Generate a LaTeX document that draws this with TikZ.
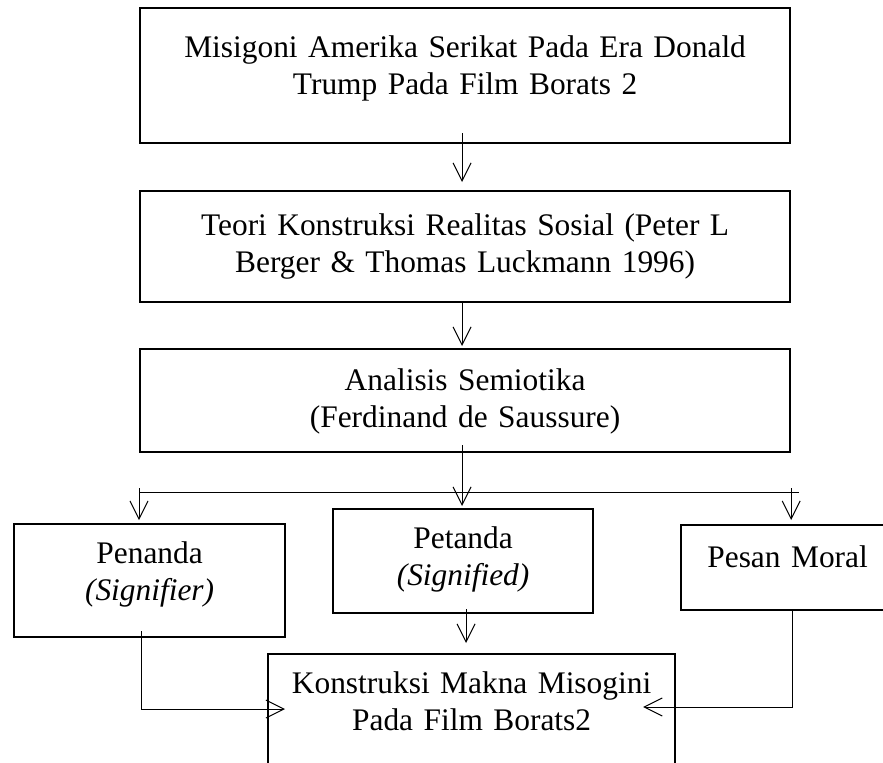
\documentclass[tikz,border=0pt]{standalone}
\usepackage{fontspec}
\setmainfont{Liberation Serif}
\usepackage{tikz}
\usetikzlibrary{arrows.meta, calc}

\begin{document}
\begin{tikzpicture}[x=0.5pt, y=-0.5pt, line cap=butt,
		box/.style={draw, line width=1.1pt, inner sep=0pt, align=center, anchor=north west,
			font=\fontsize{15.7}{18.5}\selectfont},
		garis/.style={line width=0.5pt},
		arr/.style={garis, -{Straight Barb[length=9pt, width=9pt]}}]
				\fill[white] (0,0) rectangle (883,762);
				\useasboundingbox (0,0) rectangle (883,762);
				% kotak utama
				\node[box, text width=325pt, text height=24.5pt, text depth=43pt] (topik) at (139,7)
					{Misigoni Amerika Serikat Pada Era Donald\\Trump Pada Film Borats 2};
				\node[box, text width=325pt, text height=22pt, text depth=33.5pt] (teori) at (139,190)
					{Teori Konstruksi Realitas Sosial (Peter L\\Berger \& Thomas Luckmann 1996)};
				\node[box, text width=325pt, text height=20.5pt, text depth=31pt] (analisis) at (139,348)
					{Analisis Semiotika\\(Ferdinand de Saussure)};
				% tiga cabang
				\node[box, text width=135.5pt, text height=19.5pt, text depth=37pt] (penanda) at (13,523)
					{Penanda\\\textit{(Signifier)}};
				\node[box, text width=130pt, text height=19.5pt, text depth=32.5pt] (petanda) at (332,508)
					{Petanda\\\textit{(Signified)}};
				\node[box, text width=106.5pt, text height=21pt, text depth=21.5pt] (pesan) at (680,524)
					{Pesan Moral};
				\node[box, text width=203.5pt, text height=19.5pt, text depth=49pt] (hasil) at (267,653)
					{Konstruksi Makna Misogini\\Pada Film Borats2};
				% panah
				\draw[arr] ([xshift=-1.5pt, yshift=5.5pt]topik.south) -- ([xshift=-1.5pt, yshift=4pt]teori.north);
				\draw[arr] ([xshift=-1.5pt]teori.south) -- ([xshift=-1.5pt, yshift=1pt]analisis.north);
				\draw[arr] ([xshift=-1.5pt, yshift=4pt]analisis.south) -- ([xshift=-1.5pt, yshift=1pt]petanda.north -| analisis.south);
				\coordinate (barL) at (139,492);
				\coordinate (barR) at (799,492);
				\draw[garis] (barL) -- (barR);
				\draw[arr] ([yshift=2pt]barL) -- ([yshift=1.5pt]penanda.north -| barL);
				\draw[arr] ([yshift=2pt]barR -| analisis.east) -- ([yshift=2pt]pesan.north -| analisis.east);
				\draw[arr] ([xshift=1.5pt, yshift=2.5pt]petanda.south) -- ([xshift=1.5pt, yshift=5pt]hasil.north -| petanda.south);
				\coordinate (sikuL) at (141,709);
				\draw[arr] ([yshift=3.5pt]penanda.south -| sikuL) -- (sikuL) -- ([xshift=9pt]sikuL -| hasil.west);
				\coordinate (sikuR) at (792,707);
				\draw[arr] (pesan.south -| sikuR) -- (sikuR) -- ([xshift=-16.5pt]sikuR -| hasil.east);
			\end{tikzpicture}
\end{document}
